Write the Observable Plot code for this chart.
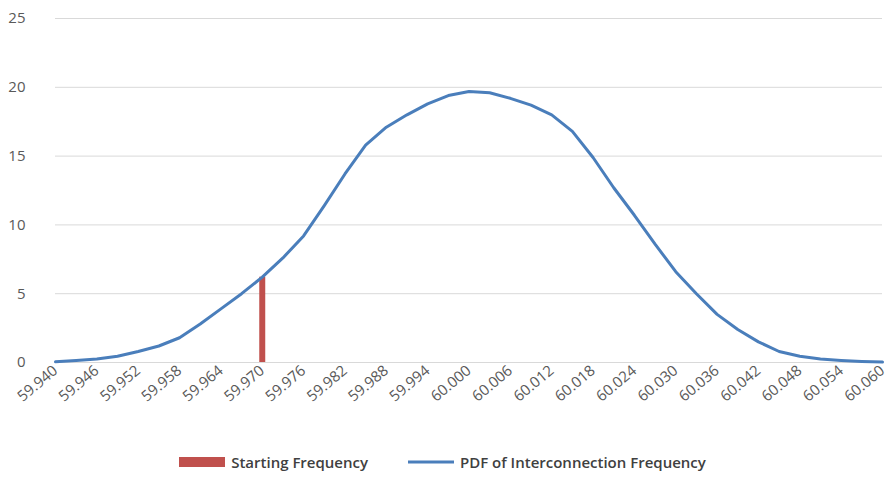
<!DOCTYPE html>
<html><head><meta charset="utf-8">
<script src="https://cdn.jsdelivr.net/npm/d3@7"></script>
<script src="https://cdn.jsdelivr.net/npm/@observablehq/plot@0.6"></script>
<style>
body{margin:0;background:#fff;font-family:"Open Sans","Liberation Sans",Arial,sans-serif;}
#legend{display:flex;justify-content:center;gap:40px;font-size:15px;font-weight:600;color:#404040;margin-top:0;}
#legend span{display:inline-flex;align-items:center;gap:6px;}
</style></head>
<body>
<div id="chart"></div>
<div id="legend">
  <span><svg width="46" height="10"><rect width="46" height="10" fill="#c0504d"/></svg>Starting Frequency</span>
  <span><svg width="46" height="10"><line x1="0" x2="46" y1="5" y2="5" stroke="#4a7ebb" stroke-width="3"/></svg>PDF of Interconnection Frequency</span>
</div>
<script>
const freq = [59.940,59.943,59.946,59.949,59.952,59.955,59.958,59.961,59.964,59.967,59.970,59.973,59.976,59.979,59.982,59.985,59.988,59.991,59.994,59.997,60.000,60.003,60.006,60.009,60.012,60.015,60.018,60.021,60.024,60.027,60.030,60.033,60.036,60.039,60.042,60.045,60.048,60.051,60.054,60.057,60.060]
const pdf = [0.05,0.15,0.25,0.45,0.8,1.2,1.8,2.8,3.9,5.0,6.2,7.6,9.2,11.4,13.7,15.8,17.1,18.0,18.8,19.4,19.7,19.6,19.2,18.7,18.0,16.8,14.9,12.7,10.7,8.6,6.6,5.0,3.5,2.4,1.5,0.8,0.45,0.25,0.15,0.08,0.03]
const startFreq = 59.970
const startValue = 6.2
const xTicks = d3.range(0, 21).map(i => +(59.940 + i * 0.006).toFixed(3))
const yTicks = [0, 5, 10, 15, 20, 25]

const data = freq.map((f, i) => ({f, p: pdf[i]}))

const chart = Plot.plot({
  width: 885, height: 452,
  marginLeft: 55, marginRight: 3, marginTop: 18, marginBottom: 90,
  style: {fontSize: "15px", color: "#595959", fontFamily: "'Open Sans', 'Liberation Sans', Arial, sans-serif"},
  x: {domain: [59.940, 60.060], ticks: xTicks, tickFormat: d => d.toFixed(3), tickRotate: -40, tickSize: 0, tickPadding: 6, label: null},
  y: {domain: [0, 25], ticks: yTicks, tickSize: 0, label: null, tickPadding: 30},
  marks: [
    Plot.ruleY(yTicks, {stroke: "#d9d9d9"}),
    Plot.ruleX([startFreq], {y1: 0, y2: startValue, stroke: "#c0504d", strokeWidth: 6}),
    Plot.line(data, {x: "f", y: "p", stroke: "#4a7ebb", strokeWidth: 3})
  ]
})
d3.select('#chart').append(() => chart)
</script>
</body></html>
